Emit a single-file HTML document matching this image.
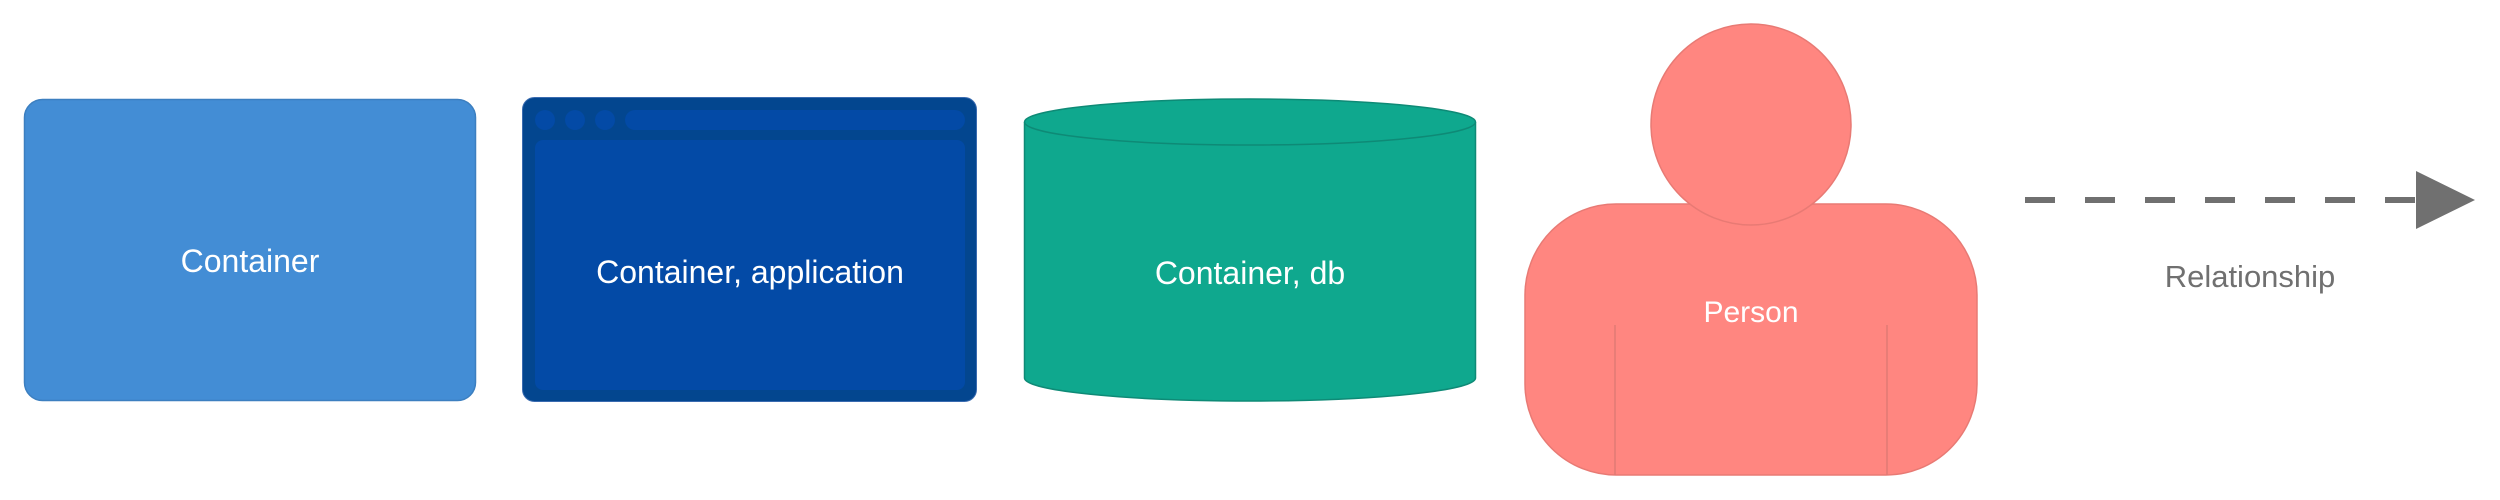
<!DOCTYPE html>
<html><head><meta charset="utf-8"><style>
html,body{margin:0;padding:0;background:#fff;width:2500px;height:500px;overflow:hidden}
svg text{font-family:"Liberation Sans",sans-serif}
</style></head><body>
<svg width="2500" height="500" viewBox="0 0 2500 500" xmlns="http://www.w3.org/2000/svg">
<!-- Container -->
<rect x="24.5" y="99.5" width="451" height="301" rx="18" fill="#438dd5" stroke="#3c7fc0" stroke-width="1.5"/>
<text x="250" y="272" font-size="32" fill="#fff" text-anchor="middle">Container</text>
<!-- App -->
<rect x="522.5" y="97.5" width="454" height="304" rx="12" fill="#03468f" stroke="#3a6bb0" stroke-width="1"/>
<rect x="535" y="140" width="430" height="250" rx="8" fill="#034aa6"/>
<circle cx="545" cy="120" r="10" fill="#034aa6"/>
<circle cx="575" cy="120" r="10" fill="#034aa6"/>
<circle cx="605" cy="120" r="10" fill="#034aa6"/>
<rect x="625" y="110" width="340" height="20" rx="10" fill="#034aa6"/>
<text x="750" y="283" font-size="32" fill="#fff" text-anchor="middle">Container, application</text>
<!-- DB -->
<path d="M1024.5 122 A225.5 23 0 0 1 1475.5 122 L1475.5 378 A225.5 23 0 0 1 1024.5 378 Z" fill="#0fa88e" stroke="#0e8a76" stroke-width="1.5"/>
<path d="M1024.5 122 A225.5 23 0 0 0 1475.5 122" fill="none" stroke="#0e8a76" stroke-width="1.5"/>
<text x="1250" y="284" font-size="32" fill="#fff" text-anchor="middle">Container, db</text>
<!-- Person -->
<rect x="1525" y="204" width="452" height="271" rx="91" fill="#ff8680" stroke="#e87a74" stroke-width="1.5"/>
<line x1="1615" y1="325" x2="1615" y2="475" stroke="#e07a74" stroke-width="1.5"/>
<line x1="1887" y1="325" x2="1887" y2="475" stroke="#e07a74" stroke-width="1.5"/>
<ellipse cx="1751" cy="124.5" rx="100" ry="100.5" fill="#ff8680" stroke="#e87a74" stroke-width="1.5"/>
<text x="1751" y="322" font-size="30" fill="#fff" text-anchor="middle">Person</text>
<!-- Relationship -->
<line x1="2025" y1="200" x2="2418" y2="200" stroke="#707070" stroke-width="6" stroke-dasharray="30 30"/>
<polygon points="2416,171 2475,200 2416,229" fill="#707070"/>
<text x="2250" y="287" font-size="31" fill="#707070" text-anchor="middle">Relationship</text>
</svg>
</body></html>
